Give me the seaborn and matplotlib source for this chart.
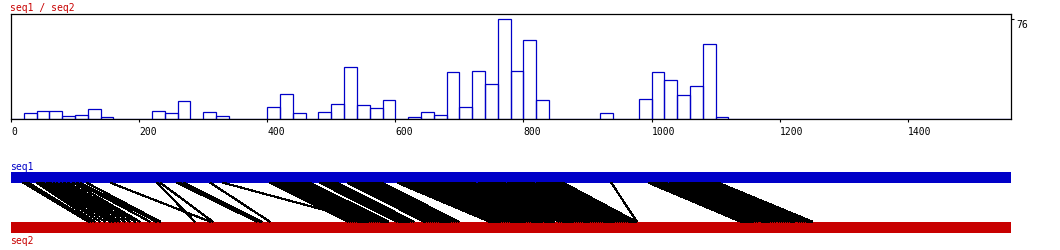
import numpy as np
import pandas as pd
import matplotlib
matplotlib.use("Agg")
import matplotlib.pyplot as plt
import seaborn as sns
from matplotlib.collections import LineCollection

# ---------------- data ----------------
seq_length = 1561
bin_width = 20
bin_starts = [20, 40, 60, 80, 100, 120, 140, 220, 240, 260, 300, 320, 400, 420, 440,
              480, 500, 520, 540, 560, 580, 620, 640, 660, 680, 700, 720, 740, 760,
              780, 800, 820, 920, 980, 1000, 1020, 1040, 1060, 1080, 1100]
bin_heights = [4.6, 6.1, 6.0, 2.3, 3.0, 7.6, 1.5, 6.0, 4.6, 13.7, 5.3, 2.3, 9.1, 19.0, 4.6,
               5.3, 11.4, 39.5, 10.6, 8.4, 14.4, 1.5, 5.3, 3.0, 35.7, 9.1, 36.5, 26.6, 76.0,
               36.5, 60.0, 14.4, 4.6, 15.2, 35.7, 29.6, 18.2, 25.0, 57.0, 1.5]
x_ticks = [0, 200, 400, 600, 800, 1000, 1200, 1400]
y_tick_max = [76]

# single matches (seq1 position -> seq2 position)
single_seq1 = [19, 23, 27, 40, 45, 50, 56, 61, 66, 71, 77, 82, 89, 97, 103, 108, 118,
               155, 228, 233, 259, 264, 269, 311, 331, 937]
single_seq2 = [121, 123, 126, 131, 139, 147, 155, 160, 165, 170, 178, 186, 194, 201, 217,
               227, 233, 311, 287, 315, 384, 389, 392, 404, 557, 977]

# diagonal match blocks: seq1 start, seq1 end, seq2 start
block_seq1_start = [404, 482, 525, 603, 690, 730, 775, 820, 995, 1028, 1053, 1083]
block_seq1_end = [467, 509, 581, 685, 725, 770, 815, 862, 1024, 1049, 1078, 1104]
block_seq2_start = [526, 602, 645, 747, 815, 855, 895, 934, 1139, 1173, 1199, 1230]

BLUE = "#0000c8"
RED = "#c80000"

sns.set_theme(style="white")
plt.rcParams['font.family'] = ['DejaVu Sans Mono', 'DejaVu Sans']

W, H = 1060, 251
fig = plt.figure(figsize=(W / 100, H / 100), dpi=100)

# ---------------- histogram ----------------
ax = fig.add_axes([11 / W, 1 - 120.3 / H, 1000 / W, 105 / H])
df = pd.DataFrame({"pos": np.array(bin_starts, dtype=float) + bin_width / 2,
                   "count": np.array(bin_heights, dtype=float)})
sns.histplot(data=df, x="pos", weights="count", binwidth=bin_width,
             binrange=(0, 1580), fill=False, color=BLUE, linewidth=0.9, ax=ax)
ax.set_xlim(0, seq_length)
ax.set_ylim(0, 79.8)
ax.set_xlabel("")
ax.set_ylabel("")
ax.set_xticks(x_ticks)
ax.set_xticklabels([str(t) for t in x_ticks])
for lab in ax.get_xticklabels():
    lab.set_horizontalalignment("left")
ax.yaxis.tick_right()
ax.set_yticks(y_tick_max)
ax.set_yticklabels([str(v) for v in y_tick_max])
for lab in ax.get_yticklabels():
    lab.set_verticalalignment("top")
ax.tick_params(axis="x", bottom=True, direction="out", length=2.5, width=0.8,
               pad=2.5, labelsize=7, colors="black")
ax.tick_params(axis="y", right=True, left=False, direction="out", length=2.5,
               width=0.8, pad=1.0, labelsize=7, colors="black")
for sp in ax.spines.values():
    sp.set_color("black")
    sp.set_linewidth(0.9)
    sp.set_visible(True)

fig.text(10 / W, 1 - 3.0 / H, "seq1 / seq2", color=RED, fontsize=7,
         ha="left", va="top")

# ---------------- match lines ----------------
ax2 = fig.add_axes([11 / W, 1 - 233.7 / H, 1000 / W, 60.4 / H])
ax2.set_xlim(0, seq_length)
ax2.set_ylim(0, 60.4)
ax2.axis("off")
ax2.barh(y=55.2, width=seq_length, height=10.4, left=0, color=BLUE, linewidth=0)
ax2.barh(y=5.5, width=seq_length, height=11.0, left=0, color=RED, linewidth=0)

top_y, bot_y = 50.0, 11.0
segs = [[(a, top_y), (b, bot_y)] for a, b in zip(single_seq1, single_seq2)]
for s, e, t in zip(block_seq1_start, block_seq1_end, block_seq2_start):
    for p in range(s, e + 1, 3):
        segs.append([(p, top_y), (t + (p - s), bot_y)])
lc = LineCollection(segs, colors="black", linewidths=0.75, antialiaseds=False)
ax2.add_collection(lc)

fig.text(10 / W, 1 - 162.5 / H, "seq1", color=BLUE, fontsize=7, ha="left", va="top")
fig.text(10 / W, 1 - 236.5 / H, "seq2", color=RED, fontsize=7, ha="left", va="top")

fig.savefig("out.png", dpi=100)
